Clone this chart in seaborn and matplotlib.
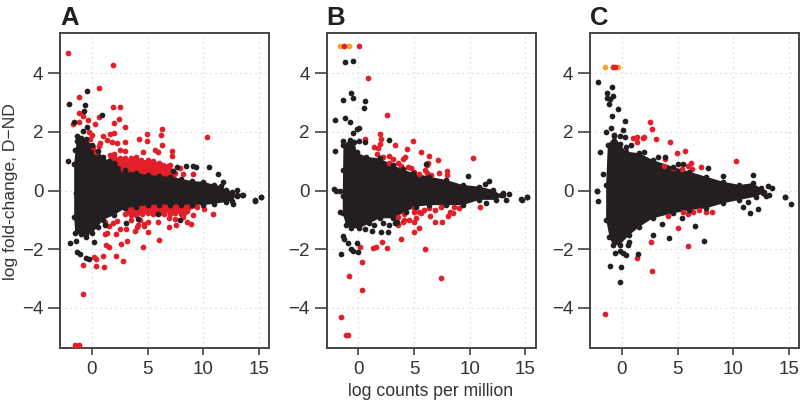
import numpy as np
import pandas as pd
import seaborn as sns
import matplotlib.pyplot as plt

sns.set_theme(style='white')
plt.rcParams['font.family'] = ['Liberation Sans', 'DejaVu Sans']

black = '#231f20'
red = '#e1202a'
orange = '#f4a52a'
spine = '#444444'

panel_names = ['A', 'B', 'C']
x_ticks = [0, 5, 10, 15]
y_ticks = [-4, -2, 0, 2, 4]
x_label = 'log counts per million'
y_label = 'log fold-change, D\u2212ND'

# outline of the dense cloud, top edge then bottom edge
a_top_x = [-1.6, -1.37, -1.0, -0.5, 0, 0.5, 1, 1.5, 2, 3, 4, 5, 6, 7, 8, 9, 10, 11, 11.6, 12, 12.6, 13]
a_top_y = [0.9, 1.7, 1.8, 1.75, 1.55, 1.35, 1.15, 1.0, 0.93, 0.7, 0.6, 0.53, 0.5, 0.47, 0.4, 0.32, 0.3, 0.19, 0.15, 0.03, -0.05, -0.2]
a_low_x = [-1.6, -1.5, -1, -0.5, 0, 0.5, 1, 2, 3, 4, 5, 6, 7, 8, 9, 10, 11, 12, 12.6, 13]
a_low_y = [-0.9, -1.46, -1.5, -1.5, -1.46, -1.25, -1.0, -0.84, -0.6, -0.55, -0.5, -0.48, -0.48, -0.48, -0.48, -0.5, -0.45, -0.4, -0.35, -0.15]

b_top_x = [-1.35, -0.96, -0.36, -0.15, 0.69, 1.89, 3.08, 4, 4.88, 6.38, 7.87, 9.37, 10.87, 12.07, 12.8]
b_top_y = [1.55, 1.6, 1.67, 1.3, 1.15, 1.1, 0.87, 0.72, 0.6, 0.47, 0.36, 0.19, 0.13, 0.02, -0.15]
b_low_x = [-1.41, -1.41, -1.11, -0.66, 0.09, 0.99, 1.89, 3.08, 4.28, 5.18, 6.38, 7.87, 9.37, 10.87, 12.37, 12.97]
b_low_y = [-0.2, -0.78, -1.18, -1.29, -1.29, -1.12, -0.95, -0.95, -0.72, -0.55, -0.5, -0.5, -0.5, -0.32, -0.32, -0.15]

c_top_x = [-1.27, -0.67, -0.22, 0.37, 1.57, 2.77, 4.57, 6.06, 7.56, 9.06, 10.55, 11.75, 12.5, 12.95]
c_top_y = [1.56, 1.85, 1.6, 1.33, 1.27, 1.04, 0.81, 0.64, 0.47, 0.3, 0.19, 0.25, 0.07, -0.2]
c_low_x = [-1.42, -1.42, -1.12, -0.82, -0.22, 0.67, 1.57, 2.77, 4.57, 6.06, 7.56, 9.06, 10.55, 12.05, 12.65]
c_low_y = [0.2, -1.0, -1.58, -1.86, -1.86, -1.52, -1.24, -0.95, -0.78, -0.67, -0.61, -0.44, -0.32, -0.21, -0.1]

# solid red bands of panel A, upper and lower
a_band_hi_x = [1.5, 2.0, 2.5, 3.0, 3.5, 4.0, 4.5, 5.0, 5.5, 6.0, 6.5, 7.0, 7.6, 7.6, 5.0, 3.0, 1.5]
a_band_hi_y = [1.1, 1.22, 1.1, 1.1, 1.08, 1.14, 1.04, 1.04, 1.0, 0.95, 0.92, 0.82, 0.62, 0.4, 0.4, 0.6, 0.9]
a_band_lo_x = [3.0, 3.5, 4.0, 5.0, 6.0, 7.0, 8.0, 8.8, 9.4, 9.4, 7.0, 5.0, 3.0]
a_band_lo_y = [-0.82, -0.88, -0.86, -0.82, -0.8, -0.78, -0.8, -0.68, -0.58, -0.4, -0.4, -0.4, -0.5]

# panel A, red points
a_red_x = [-2.19, 1.92, 0.66, -1.14, -1.17, -0.78, -1.17, -0.39, -1.68, 0.27, 0.66, 1.92, 2.54, 2.43, 1.98, 2.96, 1.95, 1.62, 1.02,
           -0.24, -0.03, -0.18, 0.72, 0.12, 0.33, 0.6, 1.32, 1.77, 2.22, 2.96, 4.25, 4.94, 4.94, 6.32, 6.2, 6.32, 5.66, 5.96, 7.16,
           7.16, 4.61, 10.3, 7.93, 8.17, 9.07, 7.0, 2.96, 2.5,
           1.6, 2.0, 2.5, 3.0, 3.5, 4.0, 4.4, 5.0, 5.5, 6.0,
           2.0, 2.4, 2.8, 3.2, 3.6, 4.0, 4.4, 4.8, 5.2, 5.6, 6.0, 6.4, 6.8,
           2.8, 3.2, 3.6, 4.0, 4.4, 4.8, 5.2, 5.6, 6.0, 6.4, 6.8, 7.2, 7.5,
           -0.84, -1.5, -1.2, -0.78, 0.18, 0.33, 0.36, 0.99, 1.11, 2.13, 2.81, 2.6, 3.17, 4.55, 5.99, 1.29, 1.56, 1.14, 1.38, 2.13,
           1.53, 1.17, 1.92, 2.28, 2.51, 3.05, 3.83, 4.01, 4.16, 4.67, 5.06, 5.0, 4.7, 5.93, 6.92, 7.54, 6.92, 7.46, 8.56, 8.92,
           9.07, 10.9, 10.06, 9.4, 8.14, 8.26, 3.5, 4.31,
           3.5, 4.0, 4.5, 5.0, 5.5, 6.0, 6.5, 7.0, 7.5, 8.0, 8.5,
           3.0, 3.5, 4.0, 4.5, 5.0, 5.5, 6.0, 6.5, 7.0, 7.5, 8.0]
a_red_y = [4.69, 4.29, 3.5, 3.2, 2.66, 2.55, 2.35, 2.42, 2.28, 2.27, 2.5, 2.85, 2.85, 2.43, 2.29, 2.17, 1.98, 1.92, 1.86,
           2.01, 1.9, 1.77, 1.63, 1.5, 1.33, 1.52, 1.73, 1.67, 1.61, 1.67, 1.75, 1.92, 1.69, 2.09, 1.89, 1.56, 1.38, 1.33, 1.36,
           1.19, 1.3, 1.83, 0.77, 0.55, 0.58, 0.87, 1.36, 1.38,
           1.2, 1.25, 1.1, 1.12, 1.1, 1.15, 1.05, 1.05, 1.0, 0.95,
           0.98, 1.0, 0.95, 0.92, 0.95, 0.98, 0.92, 0.9, 0.88, 0.9, 0.85, 0.88, 0.82,
           0.74, 0.72, 0.74, 0.72, 0.72, 0.7, 0.72, 0.7, 0.7, 0.72, 0.68, 0.66, 0.6,
           -3.53, -5.29, -5.29, -2.56, -2.26, -2.34, -2.57, -2.25, -2.63, -2.24, -2.41, -1.84, -1.74, -1.92, -1.7, -1.86, -1.92, -1.47, -1.44, -1.47,
           -1.21, -1.09, -1.12, -1.03, -1.33, -1.3, -1.38, -1.24, -1.18, -1.16, -1.09, -1.43, -1.22, -1.08, -1.26, -1.18, -0.95, -0.96, -1.07, -1.16,
           -0.85, -0.79, -0.63, -0.58, -0.89, -0.76, -1.0, -1.0,
           -0.72, -0.7, -0.66, -0.68, -0.66, -0.7, -0.66, -0.68, -0.66, -0.68, -0.7,
           -0.8, -0.84, -0.82, -0.8, -0.78, -0.8, -0.78, -0.8, -0.8, -0.78, -0.8]

a_black_x = [-0.45, -2.1, -0.63, -0.69, 0.87, -1.62, -0.45, -0.78, -1.38, -1.08, -1.53, -2.13, 7.3, 7.6, 8.44, 9.04, 9.34, 10.5, 11.35,
             11.74, 13.05, 13.5, 15.15, 14.64, -1.44, -1.98, -1.41, -1.32, -1.08, -0.54, -0.3, -0.54, 0.18, 3.02, 5.96, 7.9, 4.16,
             12.7, 13.53, 14.67, 15.18, 1.17]
a_black_y = [3.4, 2.97, 2.91, 2.7, 2.59, 2.34, 2.17, 2.03, 1.87, 1.73, 1.38, 1.01, 0.65, 0.81, 0.85, 0.84, 0.79, 0.81, 0.55,
             0.3, 0.03, -0.15, -0.23, -0.33, -0.1, -1.78, -1.71, -2.11, -2.17, -2.32, -2.35, -1.58, -1.75, -1.12, -0.8, -1.0, -0.98,
             -0.46, -0.14, -0.37, -0.23, -1.18]

# panel B
b_orange_x = [-1.68, -0.81]
b_orange_y = [4.92, 4.92]
b_red_x = [-1.26, 0.03, 0.84, 2.54, 1.92, 1.98, 0.63, 3.26, 4.94, 4.34, 5.63, 6.32, 7.13, 10.27, 1.89, 1.38, 1.77, 1.68, 2.78, 2.19,
           3.08, 4.22, 4.04, 3.53, 2.72, 3.83, 4.43, 4.73, 5.03, 5.48, 5.99, 6.14, 6.53, 7.22, 7.96, 7.96, 6.26, 6.17,
           -1.53, -1.11, -0.96, -0.81, 0.33, 0.3, 0.15, 1.29, 1.59, 2.1, 2.57, 3.83, 5.96, 7.4, 4.97, 5.42, 3.53, 3.98, 4.13, 4.58,
           5.03, 5.18, 4.13, 3.53, 5.03, 5.03, 5.48, 5.93, 6.38, 6.83, 6.44, 6.89, 7.54, 7.42, 8.02, 8.47, 8.23, 8.62, 9.07, 10.9, 5.63]
b_red_y = [4.92, 4.92, 3.84, 2.59, 1.93, 1.77, 1.75, 1.54, 1.7, 1.42, 1.3, 1.18, 1.05, 1.1, 1.59, 1.48, 1.44, 1.25, 1.18, 1.16,
           1.07, 1.13, 1.07, 0.95, 0.95, 0.84, 0.79, 0.76, 0.64, 0.58, 0.7, 0.59, 0.53, 0.61, 0.68, 0.53, 0.95, 0.88,
           -4.31, -4.94, -4.94, -2.91, -3.4, -2.43, -1.93, -1.98, -1.94, -1.75, -1.98, -1.64, -2.01, -3.0, -1.41, -1.27, -1.18, -1.09, -1.0, -1.0,
           -1.07, -0.95, -0.8, -0.92, -0.61, -0.72, -0.72, -0.67, -0.61, -0.67, -0.87, -1.07, -1.07, -0.55, -0.87, -0.78, -0.72, -0.55, -0.59, -0.58, -0.78]
b_black_x = [-1.17, -0.48, -0.69, -0.51, -1.35, 0.6, 0.54, -2.13, -1.2, -0.75, 0.09, -0.15, -0.51, -1.41, -0.72, 0.09, 0.63, 2.75, -2.13,
             6.08, 9.88, 11.74, 11.32, -2.2, -1.62, -1.41, 13.02, 13.5, 15.15, 14.64,
             -1.56, -1.41, -1.26, -0.96, -0.12, -0.66, -0.45, 0, -1.65, 0.63, 1.23, 2.0, 2.66, 1.44, 2.2, 2.7, 3.25, 3.44, 11.47, 13.26, 14.67, 15.15, -2.0]
b_black_y = [4.39, 4.43, 3.32, 3.16, 3.1, 3.05, 2.82, 2.41, 2.49, 2.34, 2.15, 2.09, 1.98, 1.7, 1.73, 1.69, 1.67, 1.72, 1.35,
             0.9, 0.5, 0.31, 0.22, 0.06, 0, 0.7, -0.07, -0.11, -0.23, -0.3,
             -2.17, -1.54, -1.67, -1.78, -1.78, -2.0, -2.07, -2.11, -0.72, -1.33, -1.37, -1.41, -1.41, -1.18, -1.1, -1.18, -1.1, -1.09, -0.44, -0.32, -0.31, -0.23, -0.02]

# panel C
c_orange_x = [-1.48, -0.37]
c_orange_y = [4.21, 4.21]
c_red_x = [-0.82, -0.58, 2.53, 2.68, 1.0, 1.36, 1.33, 1.9, 2.02, 3.07, 4.33, 4.93, 5.64, 10.28, 3.9, 3.76, 4.54, 5.4, 5.91, 6.18, 6.27, 7.11,
           -1.51, 2.68, 1.33, 2.59, 5.97, 4.99, 4.15, 5.49, 5.91, 6.42, 6.9, 7.53, 8.13]
c_red_y = [4.21, 4.21, 2.34, 2.09, 1.79, 1.83, 1.67, 1.79, 1.82, 1.75, 1.64, 1.29, 1.36, 1.02, 1.07, 0.84, 0.77, 0.72, 0.85, 0.95, 0.72, 0.8,
           -4.22, -2.75, -2.31, -1.77, -1.89, -1.27, -0.87, -0.72, -0.79, -0.75, -0.68, -0.72, -0.75]
c_black_x = [-2.17, -0.91, -1.3, -1.33, -1.03, -0.79, -1.18, -0.4, -0.88, 0.31, -1.0, 0.07, -1.39, -0.67, -0.22, 0.25, -1.99, -1.69, -2.23,
             0.82, 0.37, 2.02, 3.28, 3.91, 5.01, 5.49, 7.71, 9.06, 11.75, 13.1, 13.49, 14.66, 12.8,
             -2.11, -2.23, -0.62, -0.22, 0.07, 0.37, 1.42, 0.52, 0.67, -1.09, -0.1, -0.22, 2.83, 4.18, 3.58, 5.43, 6.57, 7.38, 10.91, 11.48, 12.23, 11.3, 14.66, 15.16, 13.25]
c_black_y = [3.69, 3.55, 3.33, 3.17, 3.13, 3.22, 2.96, 2.79, 2.55, 2.39, 2.13, 2.08, 2.0, 1.9, 1.86, 1.83, 1.33, 0.58, 0,
             1.56, 1.5, 1.33, 1.13, 1.16, 0.92, 0.92, 0.77, 0.51, 0.52, 0.15, 0.09, -0.22, -0.06,
             -0.37, -0.02, -2.15, -2.06, -2.15, -2.2, -2.18, -1.86, -1.75, -2.57, -2.6, -3.14, -1.52, -1.62, -1.16, -0.95, -1.21, -1.73, -0.55, -0.76, -0.62, -0.38, -0.22, -0.47, -0.15]

panels = [
    dict(top=(a_top_x, a_top_y), low=(a_low_x, a_low_y), red=(a_red_x, a_red_y), black=(a_black_x, a_black_y), orange=([], []),
         bands=[(a_band_hi_x, a_band_hi_y), (a_band_lo_x, a_band_lo_y)]),
    dict(top=(b_top_x, b_top_y), low=(b_low_x, b_low_y), red=(b_red_x, b_red_y), black=(b_black_x, b_black_y), orange=(b_orange_x, b_orange_y),
         bands=[]),
    dict(top=(c_top_x, c_top_y), low=(c_low_x, c_low_y), red=(c_red_x, c_red_y), black=(c_black_x, c_black_y), orange=(c_orange_x, c_orange_y),
         bands=[]),
]

W, H = 801, 403
lefts = [60, 326.5, 590]
ax_w, ax_h = 209, 315
ax_top = 33


def dots(ax, xy, colour, z=3):
    if len(xy[0]) == 0:
        return
    df = pd.DataFrame({'x': xy[0], 'y': xy[1]})
    sns.scatterplot(data=df, x='x', y='y', color=colour, s=17, linewidth=0, ax=ax, zorder=z, clip_on=False)


fig = plt.figure(figsize=(W / 100, H / 100), dpi=100)
for name, left, p in zip(panel_names, lefts, panels):
    ax = fig.add_axes([left / W, 1 - (ax_top + ax_h) / H, ax_w / W, ax_h / H])
    ax.set_xlim(-2.87, 15.9)
    ax.set_ylim(-5.38, 5.38)
    ax.set_axisbelow(True)
    ax.grid(True, color='#d4d4d4', linestyle=(0, (1, 3)), linewidth=0.9)

    for bx, by in p['bands']:
        ax.fill(bx, by, color=red, linewidth=0, zorder=1.5)

    # the cloud is too dense to read single points from
    ax.fill(list(p['top'][0]) + list(p['low'][0])[::-1], list(p['top'][1]) + list(p['low'][1])[::-1],
            color=black, linewidth=0, zorder=2)
    dots(ax, p['orange'], orange)
    dots(ax, p['red'], red)
    dots(ax, p['top'], black, 4)
    dots(ax, p['low'], black, 4)
    dots(ax, p['black'], black, 4)

    ax.set_xticks(x_ticks)
    ax.set_yticks(y_ticks)
    ax.set_yticklabels([str(t).replace('-', '\u2212') for t in y_ticks])
    ax.tick_params(axis='both', which='major', left=True, bottom=True, colors='#333333', labelsize=13.5, length=5, width=1.1, pad=4.5)
    ax.tick_params(axis='y', length=9, pad=3)
    ax.set_xlabel('')
    ax.set_ylabel('')
    for s in ax.spines.values():
        s.set_color(spine)
        s.set_linewidth(1.4)
    fig.text(left / W, 1 - 25 / H, name, fontsize=18.5, fontweight='bold', color=black, ha='left', va='baseline')

fig.text(431 / W, 1 - 392 / H, x_label, fontsize=12.7, color='#333333', ha='center', va='center')
fig.text(11 / W, 1 - 192 / H, y_label, fontsize=12.6, color='#333333', ha='center', va='center', rotation=90)

fig.savefig('out.png', dpi=100)
